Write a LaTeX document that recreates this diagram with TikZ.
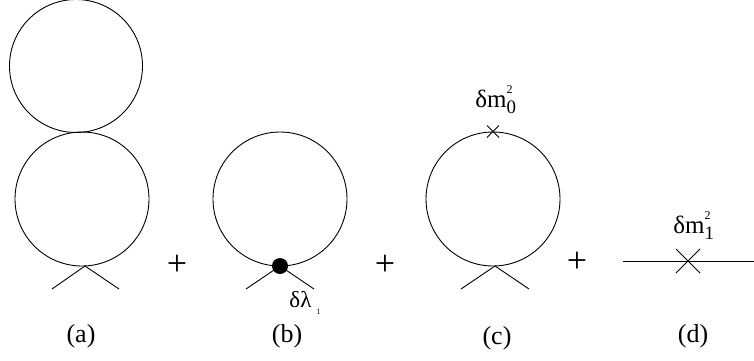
\documentclass[tikz,border=0pt]{standalone}
\usepackage{fontspec}
\setmainfont{Liberation Serif}
\newcommand{\masslbl}[1]{δm\makebox[0pt][l]{\raisebox{14pt}{\fontsize{12}{12}\selectfont 2}}\raisebox{-6pt}{\fontsize{19}{19}\selectfont #1}}
\begin{document}
\begin{tikzpicture}[x=1pt,y=-1pt, line width=0.9pt,
  lbl/.style={font=\fontsize{26}{26}\selectfont, inner sep=0pt},
  mlbl/.style={font=\fontsize{25}{25}\selectfont, inner sep=0pt, anchor=base west},
  plussign/.style={font=\fontsize{36}{36}\selectfont, inner sep=0pt},
  loopc/.style={draw, circle, minimum size=134pt, inner sep=0pt},
  dotv/.style={fill, circle, minimum size=16pt, inner sep=0pt}]
\useasboundingbox (0,0) rectangle (754,360);
% (a)
\node[loopc, minimum size=133pt] (a1) at (76,66) {};
\node[loopc] (a2) at (82,199) {};
\coordinate (av) at (85,266);
\coordinate (al) at (52,289);
\coordinate (ar) at (119,289);
\draw (al) -- (av) -- (ar);
\node[lbl] (la) at (81,336) {(a)};
\node[plussign] (p1) at (177,265) {+};
% (b)
\node[loopc] (b1) at (280,199) {};
\node[dotv] (bv) at (280,266) {};
\coordinate (bl) at (246,289);
\coordinate (br) at (314,289);
\draw (bl) -- (bv.center) -- (br);
\node[font=\fontsize{23}{23}\selectfont, inner sep=0pt, anchor=base west] (bt) at (289,307) {δλ\hspace{5pt}\raisebox{-7pt}{\fontsize{8}{8}\selectfont 1}};
\node[lbl] (lb) at (287,336) {(b)};
\node[plussign] (p2) at (385,265) {+};
% (c)
\node[loopc] (c1) at (493,199) {};
\coordinate (cx) at (c1.north);
\draw ([shift={(-6,-6)}]cx) -- ([shift={(6,6)}]cx);
\draw ([shift={(-6,6)}]cx) -- ([shift={(6,-6)}]cx);
\node[mlbl] (ct) at (475,107) {\masslbl{0}};
\coordinate (cv) at (495,266);
\coordinate (cl) at (461,289);
\coordinate (cr) at (529,289);
\draw (cl) -- (cv) -- (cr);
\node[lbl] (lc) at (497,338) {(c)};
\node[plussign] (p3) at (577,262) {+};
% (d)
\coordinate (dl) at (623,261);
\coordinate (dr) at (754,261);
\coordinate (dx) at (688,261);
\draw (dl) -- (dr);
\draw ([shift={(-12,-12)}]dx) -- ([shift={(12,12)}]dx);
\draw ([shift={(-12,12)}]dx) -- ([shift={(12,-12)}]dx);
\node[mlbl] (dt) at (673,233) {\masslbl{1}};
\node[lbl] (ld) at (693,336) {(d)};
\end{tikzpicture}
\end{document}
